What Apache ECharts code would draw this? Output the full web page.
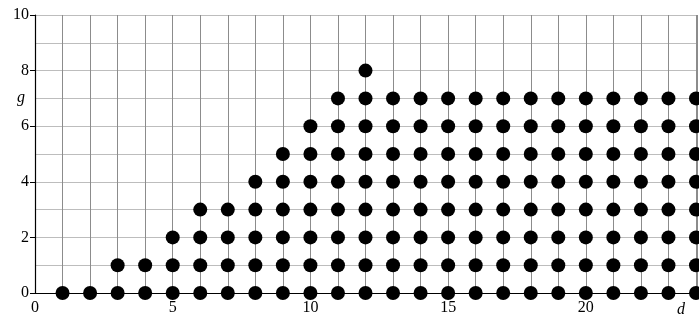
<!DOCTYPE html>
<html><head><meta charset="utf-8">
<script src="https://cdn.jsdelivr.net/npm/echarts@6/dist/echarts.min.js"></script>
<style>html,body{margin:0;padding:0;background:#fff}#c{width:699px;height:320px}</style>
</head><body><div id="c"></div>
<script>
// d values and the highest g reached at each d (dots at g = 0..gMax)
var dValues = [1,2,3,4,5,6,7,8,9,10,11,12,13,14,15,16,17,18,19,20,21,22,23,24];
var gMax    = [0,0,1,1,2,3,3,4,5,6,7,8,7,7,7,7,7,7,7,7,7,7,7,7];
var xTicks = [0,5,10,15,20];
var yTicks = [0,2,4,6,8,10];

var points = [];
dValues.forEach(function(d,i){ for(var g=0; g<=gMax[i]; g++) points.push([d,g]); });

var chart = echarts.init(document.getElementById('c'));
var font = 'Liberation Serif';
chart.setOption({
  animation:false,
  grid:{left:35, top:15, right:0, bottom:27, containLabel:false},
  xAxis:{type:'value', min:0, max:24.06, interval:1,
    axisLine:{show:true, onZero:false, lineStyle:{color:'#000', width:1.2}},
    axisTick:{show:false},
    axisLabel:{fontFamily:font, fontSize:16, color:'#000', margin:7, showMaxLabel:false,
      formatter:function(v){return xTicks.indexOf(v)>=0 ? String(v) : '';}},
    splitLine:{show:true, lineStyle:{color:'#8c8c8c', width:1}}
  },
  yAxis:{type:'value', min:0, max:10, interval:2,
    axisLine:{show:true, onZero:false, lineStyle:{color:'#000', width:1.2}},
    axisTick:{show:true, inside:false, length:5, lineStyle:{color:'#000'}},
    axisLabel:{fontFamily:font, fontSize:16, color:'#000', margin:6,
      formatter:function(v){return yTicks.indexOf(v)>=0 ? String(v) : '';}},
    splitLine:{show:true, lineStyle:{color:'#bdbdbd', width:1}},
    minorTick:{show:false, splitNumber:2},
    minorSplitLine:{show:true, lineStyle:{color:'#bdbdbd', width:1}}
  },
  graphic:[
    {type:'text', left:17, top:90, style:{text:'g', font:'italic 16px "Liberation Serif"', fill:'#000'}},
    {type:'text', left:677, top:302, style:{text:'d', font:'italic 16px "Liberation Serif"', fill:'#000'}}
  ],
  series:[{type:'scatter', data:points, symbol:'circle', symbolSize:14,
    itemStyle:{color:'#000', opacity:1}, clip:false, z:5}]
});
</script></body></html>
